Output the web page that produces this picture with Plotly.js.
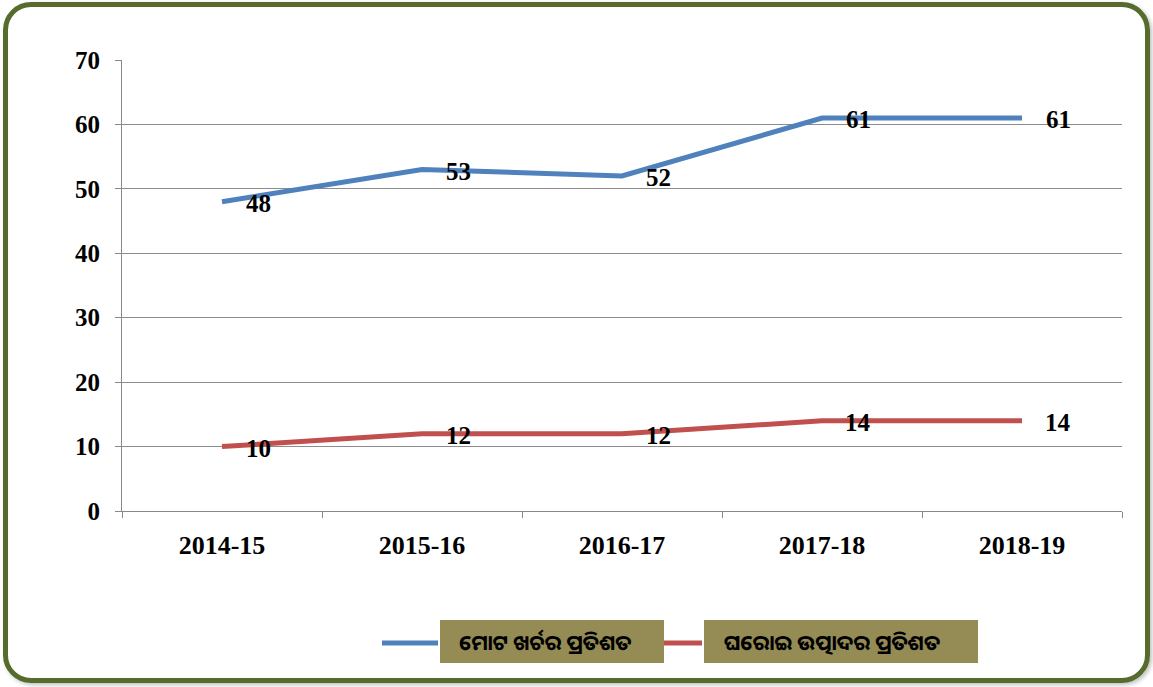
<!DOCTYPE html>
<html>
<head>
<meta charset="utf-8">
<script src="https://cdn.plot.ly/plotly-3.0.1.min.js"></script>
<style>
html,body{margin:0;padding:0;background:#fff;}
#wrap{position:relative;width:1153px;height:687px;overflow:hidden;background:#fff;}
#chart{position:absolute;left:0;top:0;width:1153px;height:687px;}
#frame{position:absolute;left:3px;top:2px;width:1147px;height:681px;box-sizing:border-box;border:5px solid #566b2c;border-radius:28px;pointer-events:none;box-shadow:2px 2px 4px rgba(0,0,0,0.25);}
</style>
</head>
<body>
<div id="wrap"><div id="chart"></div><div id="frame"></div></div>
<script>
const years = ['2014-15','2015-16','2016-17','2017-18','2018-19'];
const totalExpensePct = [48, 53, 52, 61, 61];
const privateProductionPct = [10, 12, 12, 14, 14];
const seriesNames = ['ମୋଟ ଖର୍ଚର ପ୍ରତିଶତ', 'ଘରୋଇ ଉତ୍ପାଦର ପ୍ରତିଶତ'];
const yTicks = [0,10,20,30,40,50,60,70];

const colors = ['#4F81BD', '#C0504D'];
const serif = 'Liberation Serif, Times New Roman, serif';
const odia = 'Noto Sans Oriya, Noto Sans, DejaVu Sans, sans-serif';

const traces = [totalExpensePct, privateProductionPct].map((vals, i) => ({
  type: 'scatter', mode: 'lines', x: years, y: vals, name: seriesNames[i],
  line: {color: colors[i], width: 5}, hoverinfo: 'skip', showlegend: false
}));

const annotations = [];
[totalExpensePct, privateProductionPct].forEach(vals => {
  vals.forEach((v, j) => annotations.push({
    x: years[j], y: v, xref: 'x', yref: 'y', text: '<b>' + v + '</b>', showarrow: false,
    xshift: 36, yshift: -2, font: {family: serif, size: 25, color: '#000'}
  }));
});

// custom legend (line sample + olive box with text)
const L = 122, W = 1000, B = 511, H = 451;
const px = x => (x - L) / W, py = y => (B - y) / H;
const legendItems = [
  {lineX: [382, 438], box: [440, 664], textX: 457},
  {lineX: [664, 702], box: [704, 978], textX: 722}
];
const shapes = [];
legendItems.forEach((it, i) => {
  shapes.push({type: 'rect', xref: 'paper', yref: 'paper', x0: px(it.box[0]), x1: px(it.box[1]),
    y0: py(663), y1: py(620), fillcolor: '#958B55', line: {width: 0}});
  shapes.push({type: 'line', xref: 'paper', yref: 'paper', x0: px(it.lineX[0]), x1: px(it.lineX[1]),
    y0: py(643), y1: py(643), line: {color: colors[i], width: 5}});
  annotations.push({xref: 'paper', yref: 'paper', x: px(it.textX), y: py(642), xanchor: 'left', yanchor: 'middle',
    text: '<b>' + seriesNames[i] + '</b>', showarrow: false, font: {family: odia, size: 21, color: '#000'}});
});

const layout = {
  width: 1153, height: 687,
  margin: {l: 122, r: 31, t: 60, b: 176},
  paper_bgcolor: '#fff', plot_bgcolor: '#fff',
  showlegend: false,
  xaxis: {
    type: 'category', range: [-0.5, 4.5], tickvals: years, ticktext: years.map(t => '<b>' + t + '</b>'),
    showgrid: false, showline: true, linecolor: '#888', linewidth: 1,
    ticks: 'outside', tickson: 'boundaries', ticklen: 6, tickcolor: '#888',
    ticklabelstandoff: 11,
    tickfont: {family: serif, size: 26, color: '#000'}, zeroline: false, fixedrange: true
  },
  yaxis: {
    range: [0, 70], tickvals: yTicks, ticktext: yTicks.map(t => '<b>' + t + '</b>'),
    showgrid: true, gridcolor: '#8c8c8c', gridwidth: 1,
    showline: true, linecolor: '#888', linewidth: 1,
    ticks: 'outside', ticklen: 6, tickcolor: '#888', ticklabelstandoff: 10,
    tickfont: {family: serif, size: 25, color: '#000'}, zeroline: false, fixedrange: true
  },
  annotations: annotations,
  shapes: shapes
};

Plotly.newPlot('chart', traces, layout, {displayModeBar: false, staticPlot: true});
</script>
</body>
</html>
